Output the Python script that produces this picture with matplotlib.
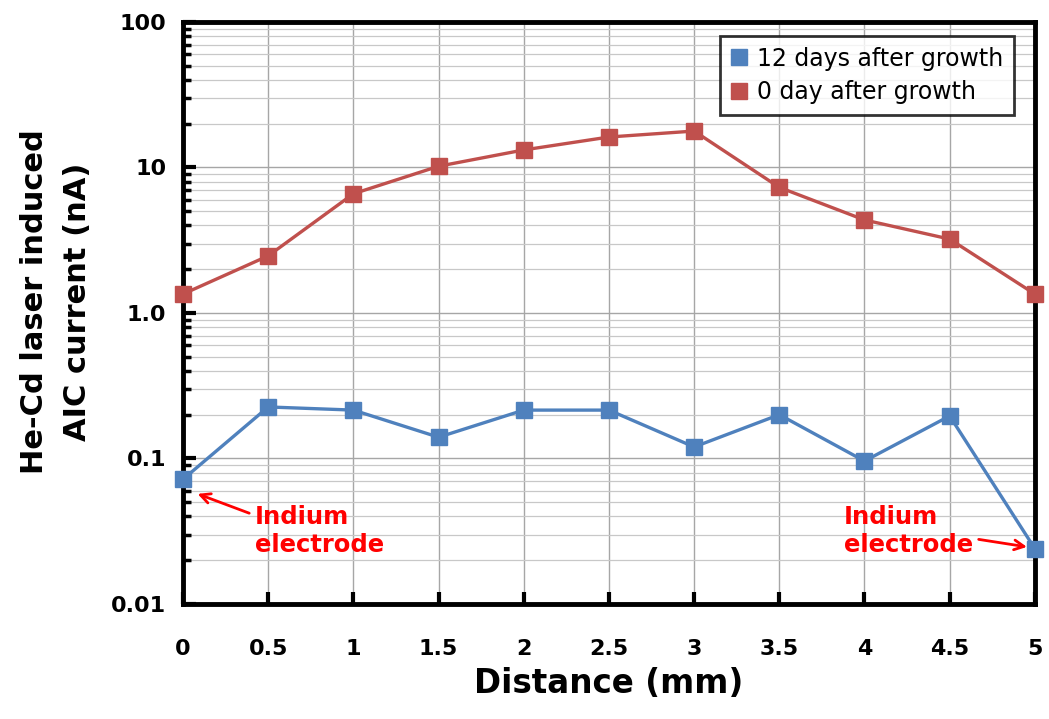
import numpy as np
import matplotlib.pyplot as plt
from matplotlib.ticker import FixedLocator, FixedFormatter, LogLocator, NullFormatter

# 거리 (mm)
distance = [0, 0.5, 1, 1.5, 2, 2.5, 3, 3.5, 4, 4.5, 5]
# 12일 후 전류 (nA)
current_12days = [0.072, 0.226, 0.215, 0.14, 0.215, 0.215, 0.12, 0.2, 0.096, 0.196, 0.024]
# 성장 직후 전류 (nA)
current_0day = [1.35, 2.47, 6.6, 10.2, 13.2, 16.2, 17.8, 7.3, 4.36, 3.22, 1.35]

x_ticks = [0, 0.5, 1, 1.5, 2, 2.5, 3, 3.5, 4, 4.5, 5]
x_tick_labels = ['0', '0.5', '1', '1.5', '2', '2.5', '3', '3.5', '4', '4.5', '5']
y_ticks = [0.01, 0.1, 1, 10, 100]
y_tick_labels = ['0.01', '0.1', '1.0', '10', '100']

blue = '#4F81BD'
red = '#C0504D'

plt.rcParams['font.family'] = ['DejaVu Sans']

fig = plt.figure(figsize=(10.49, 7.19), dpi=100)
ax = fig.add_axes([0.1745, 0.16, 0.812, 0.8094])

ax.set_yscale('log')
ax.set_xlim(0, 5)
ax.set_ylim(0.01, 100)

# 격자
ax.yaxis.set_minor_locator(LogLocator(base=10, subs=np.arange(2, 10)))
ax.yaxis.set_minor_formatter(NullFormatter())
ax.grid(True, which='major', color='#A6A6A6', linewidth=1.0)
ax.grid(True, which='minor', axis='y', color='#C8C8C8', linewidth=0.9)
ax.set_axisbelow(True)

ax.plot(distance, current_12days, color=blue, linewidth=2.4, marker='s',
        markersize=12, label='12 days after growth', clip_on=False, zorder=3)
ax.plot(distance, current_0day, color=red, linewidth=2.4, marker='s',
        markersize=12, label='0 day after growth', clip_on=False, zorder=3)

ax.xaxis.set_major_locator(FixedLocator(x_ticks))
ax.xaxis.set_major_formatter(FixedFormatter(x_tick_labels))
ax.yaxis.set_major_locator(FixedLocator(y_ticks))
ax.yaxis.set_major_formatter(FixedFormatter(y_tick_labels))

ax.tick_params(axis='x', which='major', direction='in', length=9, width=3,
               labelsize=16, pad=25)
ax.tick_params(axis='y', which='major', direction='in', length=9, width=3,
               labelsize=16, pad=12)
ax.tick_params(axis='y', which='minor', direction='in', length=6, width=2.5)
for lbl in ax.get_xticklabels() + ax.get_yticklabels():
    lbl.set_fontweight('bold')

for sp in ax.spines.values():
    sp.set_linewidth(3.5)

ax.set_xlabel('Distance (mm)', fontsize=23.5, fontweight='bold', labelpad=6)
ax.set_ylabel('He-Cd laser induced\nAIC current (nA)', fontsize=22,
              fontweight='bold', linespacing=1.6)
ax.yaxis.set_label_coords(-0.107, 0.519)

# 범례 (마커만)
handles = [
    plt.Line2D([], [], color=blue, marker='s', linestyle='none', markersize=11),
    plt.Line2D([], [], color=red, marker='s', linestyle='none', markersize=11),
]
leg = ax.legend(handles, ['12 days after growth', '0 day after growth'],
                loc='upper right', bbox_to_anchor=(0.975, 0.976), borderaxespad=0,
                fontsize=17, frameon=True, fancybox=False, edgecolor='black',
                handlelength=0.7, handletextpad=0.4, borderpad=0.45,
                labelspacing=0.4)
leg.get_frame().set_linewidth(2)

# 주석
ax.annotate('Indium\nelectrode', xy=(0.07, 0.058), xytext=(0.42, 0.048),
            fontsize=17.5, fontweight='bold', color='red', ha='left', va='top',
            arrowprops=dict(arrowstyle='->', color='red', lw=2,
                            relpos=(0.0, 0.8)))
ax.annotate('Indium\nelectrode', xy=(4.97, 0.0245), xytext=(3.88, 0.048),
            fontsize=17.5, fontweight='bold', color='red', ha='left', va='top',
            arrowprops=dict(arrowstyle='->', color='red', lw=2,
                            relpos=(1.0, 0.35)))

fig.savefig('out.png', dpi=100)
